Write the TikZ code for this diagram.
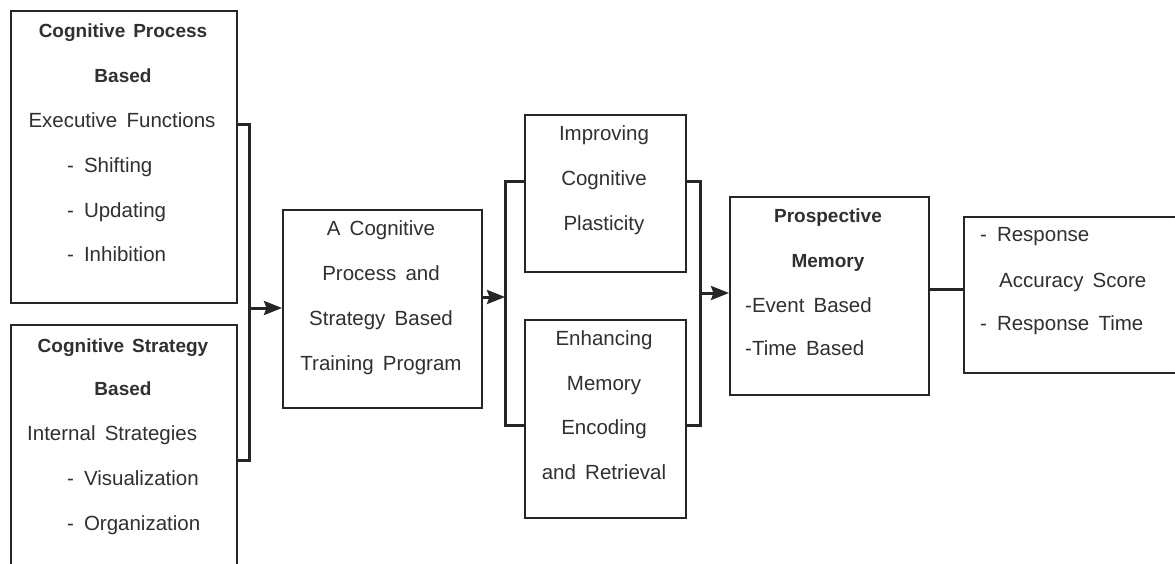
\documentclass[tikz,border=0pt]{standalone}
\usepackage{fontspec}
\setmainfont{Liberation Sans}
\usetikzlibrary{arrows.meta}
\definecolor{ink}{HTML}{262626}
\definecolor{txtc}{HTML}{303030}
\newcommand\regfont{\fontsize{20.5}{24}\selectfont\spaceskip 0.45em plus 0.1em\relax}
\newcommand\boldfont{\fontsize{19}{24}\selectfont\bfseries\spaceskip 0.42em plus 0.1em\relax}
\begin{document}
\begin{tikzpicture}[x=1pt,y=-1pt,
  box/.style={draw=ink,line width=2pt,inner sep=0pt,anchor=north west},
  txt/.style={font=\regfont,text=txtc,inner sep=0pt,anchor=mid},
  ltxt/.style={txt,anchor=mid west},
  btxt/.style={txt,font=\boldfont},
  conn/.style={draw=ink,line width=3pt},
  arr/.style={conn,-{Stealth[length=18pt,width=14pt,inset=2.5pt]}}]
\useasboundingbox (0,0) rectangle (1175,564);
\clip (0,0) rectangle (1175,564);
\fill[white] (0,0) rectangle (1175,564);

% boxes
\node[box,minimum width=226pt,minimum height=292pt] (b1) at (10,10) {};
\node[box,minimum width=226pt,minimum height=270pt] (b2) at (10,324) {};
\node[box,minimum width=199pt,minimum height=198pt] (b3) at (282,209) {};
\node[box,minimum width=161pt,minimum height=157pt] (b4) at (524,114) {};
\node[box,minimum width=161pt,minimum height=198pt] (b5) at (524,319) {};
\node[box,minimum width=199pt,minimum height=198pt] (b6) at (729,196) {};
\node[box,minimum width=240pt,minimum height=156pt] (b7) at (963,216) {};

% box 1 text
\node[btxt] (t11) at (123,35) {Cognitive Process};
\node[btxt] (t12) at (123,80) {Based};
\node[txt] (t13) at (122,125) {Executive Functions};
\node[ltxt] (t14) at (67,170) {-\hspace{10pt}Shifting};
\node[ltxt] (t15) at (67,215) {-\hspace{10pt}Updating};
\node[ltxt] (t16) at (67,259) {-\hspace{10pt}Inhibition};

% box 2 text
\node[btxt] (t21) at (123,350) {Cognitive Strategy};
\node[btxt] (t22) at (123,393) {Based};
\node[ltxt] (t23) at (27,438) {Internal Strategies};
\node[ltxt] (t24) at (67,483) {-\hspace{10pt}Visualization};
\node[ltxt] (t25) at (67,528) {-\hspace{10pt}Organization};

% box 3 text
\node[txt] (t31) at (381,233) {A Cognitive};
\node[txt] (t32) at (381,278) {Process and};
\node[txt] (t33) at (381,323) {Strategy Based};
\node[txt] (t34) at (381,368) {Training Program};

% box 4 text
\node[txt] (t41) at (604,138) {Improving};
\node[txt] (t42) at (604,183) {Cognitive};
\node[txt] (t43) at (604,228) {Plasticity};

% box 5 text
\node[txt] (t51) at (604,343) {Enhancing};
\node[txt] (t52) at (604,388) {Memory};
\node[txt] (t53) at (604,432) {Encoding};
\node[txt] (t54) at (604,477) {and Retrieval};

% box 6 text
\node[btxt] (t61) at (828,220) {Prospective};
\node[btxt] (t62) at (828,265) {Memory};
\node[ltxt] (t63) at (745,310) {-Event Based};
\node[ltxt] (t64) at (745,353) {-Time Based};

% box 7 text
\node[ltxt] (t71) at (980,239) {-\hspace{10pt}Response};
\node[ltxt] (t72) at (999,285) {Accuracy Score};
\node[ltxt] (t73) at (980,328) {-\hspace{10pt}Response Time};

% junction coordinates
\coordinate (jl) at (249,308);
\coordinate (jm) at (505,297);
\coordinate (jr) at (700,293);

% connectors
\draw[conn] (b1.east |- 0,125) -| (jl) |- (b2.east |- 0,460);
\draw[arr] (jl) -- (b3.west |- jl);
\draw[arr] (b3.east |- jm) -- (jm);
\draw[conn] (b4.west |- 0,182) -| (jm) |- (b5.west |- 0,425);
\draw[conn] (b4.east |- 0,182) -| (jr) |- (b5.east |- 0,425);
\draw[arr] (jr) -- (b6.west |- jr);
\draw[conn] (b6.east |- 0,289) -- (b7.west |- 0,289);
\end{tikzpicture}
\end{document}
